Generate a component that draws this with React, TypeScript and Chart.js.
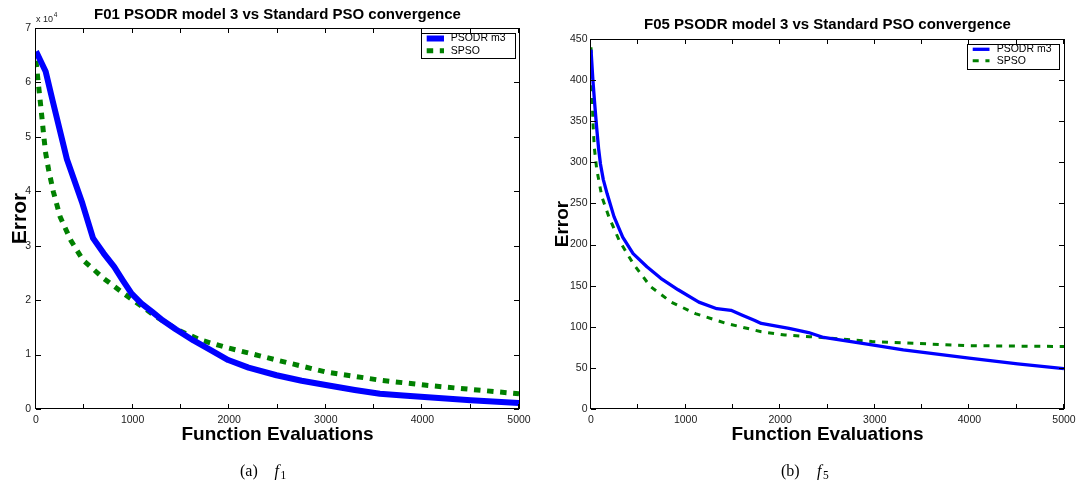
import React, { useEffect, useRef } from "react";
import { Chart, registerables } from "chart.js";

Chart.register(...registerables);

// ---------- F01 data ----------
const f01PsodrEvals = [0, 100, 170, 320, 480, 590, 700, 810, 900, 990, 1090, 1200, 1310, 1450, 1630, 1800, 1990, 2200, 2490, 2750, 3000, 3300, 3560, 3800, 4020, 4500, 5000];
const f01Psodr = [65700, 62000, 56800, 45900, 37800, 31400, 28600, 26100, 23600, 21200, 19400, 17900, 16300, 14600, 12600, 10900, 9000, 7600, 6200, 5200, 4400, 3500, 2800, 2500, 2200, 1600, 1100];
const f01SpsoEvals = [0, 20, 40, 60, 80, 100, 130, 180, 250, 360, 485, 700, 910, 1100, 1240, 1470, 1700, 1970, 2220, 2490, 3000, 3560, 4020, 4500, 5000];
const f01Spso = [64000, 60500, 57200, 53800, 50200, 47000, 44000, 39900, 35300, 31000, 27400, 24000, 21200, 18800, 17000, 14500, 12700, 11300, 10200, 9000, 6800, 5300, 4400, 3600, 2800];

// ---------- F05 data ----------
const f05PsodrEvals = [0, 20, 40, 60, 80, 100, 130, 170, 243, 335, 445, 591, 738, 921, 1140, 1330, 1480, 1600, 1726, 1800, 2093, 2300, 2459, 2971, 3301, 3997, 4510, 5000];
const f05Psodr = [437, 400, 370, 342, 317, 298, 279, 262, 234, 209, 189, 173, 159, 145, 130, 122, 120, 114, 108, 104, 98, 93, 87, 78, 72, 62, 55, 49];
const f05SpsoEvals = [0, 10, 20, 35, 60, 115, 188, 298, 445, 628, 848, 1104, 1323, 1433, 1800, 2050, 2313, 2971, 3997, 5000];
const f05Spso = [440, 390, 350, 318, 292, 258, 234, 205, 177, 149, 130, 116, 108, 104, 94, 90, 88, 82, 77, 76];

// ---------- labels ----------
const seriesLabels = ["PSODR m3", "SPSO"];
const f01Title = "F01 PSODR model 3 vs Standard PSO convergence";
const f05Title = "F05 PSODR model 3 vs Standard PSO convergence";
const xTitle = "Function Evaluations";
const yTitle = "Error";
const xTickStep = 500;
const xLabelStep = 1000;

const SANS = "'Liberation Sans', Arial, Helvetica, sans-serif";
const SERIF = "'Liberation Serif', 'Times New Roman', serif";
const BLUE = "#0000ff";
const GREEN = "#008000";

const toPoints = (xs: number[], ys: number[]) => xs.map((x, i) => ({ x, y: ys[i] }));

type Cfg = {
  title: string;
  titleBaseline: number;
  titleSize: number;
  xTitleSize: number;
  yTitleSize: number;
  yTitleX: number;
  caption: string;
  captionSub: string;
  captionX: number;
  fX: number;
  exponent: boolean;
  legend: { x0: number; y0: number; x1: number; y1: number; sx0: number; sx1: number; tx: number; rows: number[] };
  lineW: [number, number];
  dash: number[];
};

const decorPlugin = {
  id: "decor",
  afterDatasetsDraw(chart: any, _args: any, opts: any) {
    const cfg: Cfg = opts.cfg;
    const { ctx, chartArea: a } = chart;
    const xs = chart.scales.x;
    const ys = chart.scales.y;
    ctx.save();
    // box
    ctx.strokeStyle = "#000";
    ctx.lineWidth = 1;
    ctx.setLineDash([]);
    ctx.strokeRect(a.left - 0.5, a.top + 0.5, a.right - a.left + 1, a.bottom - a.top - 1);
    // inward tick marks
    const tl = 5;
    ctx.beginPath();
    xs.ticks.forEach((t: any) => {
      const px = Math.round(xs.getPixelForValue(t.value)) - 0.5;
      ctx.moveTo(px, a.bottom);
      ctx.lineTo(px, a.bottom - tl);
      ctx.moveTo(px, a.top);
      ctx.lineTo(px, a.top + tl);
    });
    ys.ticks.forEach((t: any) => {
      const py = Math.round(ys.getPixelForValue(t.value)) + 0.5;
      ctx.moveTo(a.left, py);
      ctx.lineTo(a.left + tl, py);
      ctx.moveTo(a.right, py);
      ctx.lineTo(a.right - tl, py);
    });
    ctx.stroke();

    // legend
    const L = cfg.legend;
    ctx.fillStyle = "#fff";
    ctx.fillRect(L.x0, L.y0, L.x1 - L.x0, L.y1 - L.y0);
    ctx.strokeStyle = "#000";
    ctx.lineWidth = 1;
    ctx.strokeRect(L.x0 + 0.5, L.y0 + 0.5, L.x1 - L.x0, L.y1 - L.y0);
    const colors = [BLUE, GREEN];
    seriesLabels.forEach((lab, i) => {
      const y = L.rows[i];
      ctx.beginPath();
      ctx.strokeStyle = colors[i];
      ctx.lineWidth = cfg.lineW[i];
      ctx.lineCap = "butt";
      ctx.setLineDash(i === 1 ? cfg.dash : []);
      ctx.moveTo(L.sx0, y);
      ctx.lineTo(L.sx1, y);
      ctx.stroke();
      ctx.setLineDash([]);
      ctx.fillStyle = "#000";
      ctx.font = `10.5px ${SANS}`;
      ctx.textAlign = "left";
      ctx.textBaseline = "middle";
      ctx.fillText(lab, L.tx, y);
    });

    // title
    const cx = (a.left + a.right) / 2;
    ctx.fillStyle = "#000";
    ctx.textAlign = "center";
    ctx.textBaseline = "alphabetic";
    ctx.font = `bold ${cfg.titleSize}px ${SANS}`;
    ctx.fillText(cfg.title, cx, cfg.titleBaseline);
    // x title
    ctx.font = `bold ${cfg.xTitleSize}px ${SANS}`;
    ctx.fillText(xTitle, cx, 439.5);
    // y title
    ctx.save();
    ctx.translate(cfg.yTitleX, (a.top + a.bottom) / 2);
    ctx.rotate(-Math.PI / 2);
    ctx.font = `bold ${cfg.yTitleSize}px ${SANS}`;
    ctx.fillText(yTitle, 0, 0);
    ctx.restore();

    // exponent
    if (cfg.exponent) {
      ctx.textAlign = "left";
      ctx.fillStyle = "#1a1a1a";
      ctx.font = `9px ${SANS}`;
      const base = "x 10";
      ctx.fillText(base, a.left, 21.7);
      const w = ctx.measureText(base).width;
      ctx.font = `6.5px ${SANS}`;
      ctx.fillText("4", a.left + w + 0.8, 17);
    }

    // caption
    ctx.textAlign = "left";
    ctx.fillStyle = "#000";
    ctx.font = `16px ${SERIF}`;
    ctx.fillText(cfg.caption, cfg.captionX, 476);
    ctx.font = `italic 16px ${SERIF}`;
    ctx.fillText("f", cfg.fX, 476);
    const fw = ctx.measureText("f").width;
    ctx.font = `11.5px ${SERIF}`;
    ctx.fillText(cfg.captionSub, cfg.fX + fw + 1.5, 478.5);
    ctx.restore();
  },
};

type ChartProps = {
  left: number;
  psodrEvals: number[];
  psodr: number[];
  spsoEvals: number[];
  spso: number[];
  yMax: number;
  yStep: number;
  yLabel: (v: number) => string;
  yWidth: number;
  padTop: number;
  padRight: number;
  yPad: number;
  cfg: Cfg;
};

function ConvChart(p: ChartProps) {
  const ref = useRef<HTMLCanvasElement | null>(null);
  useEffect(() => {
    if (!ref.current) return;
    const tickFont = { family: SANS, size: 10.5 };
    const chart = new Chart(ref.current, {
      type: "line",
      data: {
        datasets: [
          {
            label: seriesLabels[0],
            data: toPoints(p.psodrEvals, p.psodr),
            borderColor: BLUE,
            backgroundColor: BLUE,
            borderWidth: p.cfg.lineW[0],
            borderJoinStyle: "round",
            borderCapStyle: "butt",
            pointRadius: 0,
            tension: 0,
            fill: false,
          },
          {
            label: seriesLabels[1],
            data: toPoints(p.spsoEvals, p.spso),
            borderColor: GREEN,
            backgroundColor: GREEN,
            borderWidth: p.cfg.lineW[1],
            borderDash: p.cfg.dash,
            borderCapStyle: "butt",
            pointRadius: 0,
            tension: 0,
            fill: false,
          },
        ],
      },
      options: {
        animation: false,
        responsive: false,
        maintainAspectRatio: false,
        layout: { padding: { left: 0, top: p.padTop, right: p.padRight, bottom: 0 } },
        plugins: {
          legend: { display: false },
          tooltip: { enabled: false },
          title: { display: false },
          decor: { cfg: p.cfg },
        } as any,
        scales: {
          x: {
            type: "linear",
            min: 0,
            max: 5000,
            grid: { display: false, drawTicks: false, tickLength: 0 },
            border: { display: false },
            ticks: {
              stepSize: xTickStep,
              autoSkip: false,
              maxRotation: 0,
              padding: 5,
              color: "#1a1a1a",
              font: tickFont,
              callback: (v: any) => (Number(v) % xLabelStep === 0 ? String(v) : ""),
            },
            afterFit: (s: any) => {
              s.height = 75;
            },
          },
          y: {
            type: "linear",
            min: 0,
            max: p.yMax,
            grid: { display: false, drawTicks: false, tickLength: 0 },
            border: { display: false },
            ticks: {
              stepSize: p.yStep,
              autoSkip: false,
              padding: p.yPad,
              color: "#1a1a1a",
              font: tickFont,
              callback: (v: any) => p.yLabel(Number(v)),
            },
            afterFit: (s: any) => {
              s.width = p.yWidth;
            },
          },
        },
      } as any,
      plugins: [decorPlugin as any],
    });
    return () => chart.destroy();
  }, []);
  return (
    <div style={{ position: "absolute", left: p.left, top: 0, width: 541, height: 484 }}>
      <canvas ref={ref} width={541} height={484} style={{ display: "block" }} />
    </div>
  );
}

export default function App() {
  const cfgA: Cfg = {
    title: f01Title,
    titleBaseline: 18.5,
    titleSize: 15,
    xTitleSize: 19,
    yTitleSize: 21,
    yTitleX: 25.9,
    caption: "(a)",
    captionSub: "1",
    captionX: 240,
    fX: 274.5,
    exponent: true,
    legend: { x0: 421, y0: 33, x1: 515, y1: 58, sx0: 426.7, sx1: 444, tx: 450.7, rows: [38.5, 50.7] },
    lineW: [6, 5],
    dash: [6.5, 6.6],
  };
  const cfgB: Cfg = {
    title: f05Title,
    titleBaseline: 29,
    titleSize: 15,
    xTitleSize: 19,
    yTitleSize: 19,
    yTitleX: 26.7,
    caption: "(b)",
    captionSub: "5",
    captionX: 240,
    fX: 276,
    exponent: false,
    legend: { x0: 426, y0: 44, x1: 518, y1: 69, sx0: 431.7, sx1: 448.5, tx: 455.7, rows: [49.3, 60.7] },
    lineW: [3.3, 3],
    dash: [6, 6.7],
  };
  return (
    <div style={{ position: "absolute", left: 0, top: 0, width: 1082, height: 484, background: "#fff" }}>
      <ConvChart
        left={0}
        psodrEvals={f01PsodrEvals}
        psodr={f01Psodr}
        spsoEvals={f01SpsoEvals}
        spso={f01Spso}
        yMax={70000}
        yStep={10000}
        yLabel={(v) => String(v / 10000)}
        yWidth={36}
        padTop={28}
        padRight={22}
        yPad={5}
        cfg={cfgA}
      />
      <ConvChart
        left={541}
        psodrEvals={f05PsodrEvals}
        psodr={f05Psodr}
        spsoEvals={f05SpsoEvals}
        spso={f05Spso}
        yMax={450}
        yStep={50}
        yLabel={(v) => String(v)}
        yWidth={50}
        padTop={39}
        padRight={18}
        yPad={3.5}
        cfg={cfgB}
      />
    </div>
  );
}
